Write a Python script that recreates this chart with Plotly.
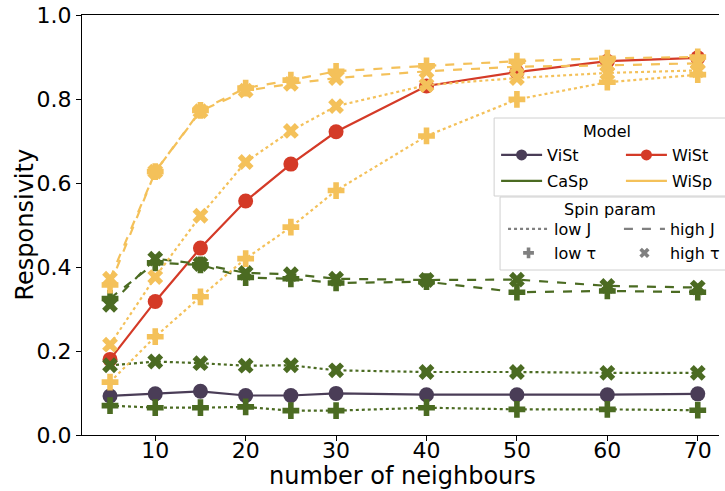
import plotly.graph_objects as go

# ---- data ----
neighbours = [5, 10, 15, 20, 25, 30, 40, 50, 60, 70]

vist = [0.093, 0.098, 0.104, 0.094, 0.094, 0.099, 0.096, 0.096, 0.096, 0.098]
wist = [0.180, 0.318, 0.445, 0.557, 0.645, 0.722, 0.831, 0.864, 0.890, 0.898]

casp_lowJ_lowT = [0.070, 0.065, 0.065, 0.067, 0.058, 0.058, 0.065, 0.061, 0.061, 0.059]
casp_lowJ_highT = [0.166, 0.175, 0.171, 0.165, 0.166, 0.154, 0.150, 0.150, 0.148, 0.148]
casp_highJ_lowT = [0.325, 0.410, 0.405, 0.375, 0.372, 0.362, 0.365, 0.340, 0.343, 0.340]
casp_highJ_highT = [0.310, 0.420, 0.407, 0.386, 0.383, 0.372, 0.369, 0.370, 0.355, 0.351]

wisp_lowJ_lowT = [0.126, 0.234, 0.329, 0.420, 0.495, 0.582, 0.712, 0.799, 0.840, 0.858]
wisp_lowJ_highT = [0.215, 0.376, 0.522, 0.650, 0.724, 0.783, 0.833, 0.850, 0.862, 0.868]
wisp_highJ_lowT = [0.357, 0.627, 0.773, 0.826, 0.845, 0.866, 0.879, 0.890, 0.897, 0.900]
wisp_highJ_highT = [0.372, 0.627, 0.771, 0.820, 0.836, 0.850, 0.866, 0.877, 0.880, 0.885]

y_ticks = [0.0, 0.2, 0.4, 0.6, 0.8, 1.0]
x_ticks = [10, 20, 30, 40, 50, 60, 70]

C_VIST = "#4a3d57"
C_WIST = "#d43a27"
C_CASP = "#4b6b22"
C_WISP = "#f4c15a"
C_GREY = "#808080"

FONT = "DejaVu Sans"

# figure geometry (pixels) used to place legend decorations and titles
W, H = 725, 491
ML, MR, MT, MB = 82, 0, 15, 56
PW, PH = W - ML - MR, H - MT - MB


def px(xp):
    return (xp - ML) / PW


def py(yp):
    return (H - MB - yp) / PH


fig = go.Figure()


def add(y, color, dash, symbol, size=14):
    fig.add_trace(go.Scatter(
        x=neighbours, y=y, mode="lines+markers",
        line=dict(color=color, width=2.2, dash=dash),
        marker=dict(color=color, symbol=symbol, size=size, line=dict(width=0)),
        showlegend=False, hoverinfo="skip"))


add(vist, C_VIST, "solid", "circle", 15)
add(wist, C_WIST, "solid", "circle", 15)
add(casp_lowJ_lowT, C_CASP, "dot", "cross")
add(casp_lowJ_highT, C_CASP, "dot", "x")
add(casp_highJ_lowT, C_CASP, "dash", "cross")
add(casp_highJ_highT, C_CASP, "dash", "x")
add(wisp_lowJ_lowT, C_WISP, "dot", "cross")
add(wisp_lowJ_highT, C_WISP, "dot", "x")
add(wisp_highJ_lowT, C_WISP, "dash", "cross")
add(wisp_highJ_highT, C_WISP, "dash", "x")

# ---- legend entries: one small legend per entry, arranged in 2 columns ----
entries = [
    # name, mode, color, dash, symbol, size, line-start px, row-centre px
    ("ViSt", "lines+markers", C_VIST, "solid", "circle", 11, 505, 155),
    ("WiSt", "lines+markers", C_WIST, "solid", "circle", 11, 631, 155),
    ("CaSp", "lines", C_CASP, "solid", "circle", 1, 505, 181),
    ("WiSp", "lines", C_WISP, "solid", "circle", 1, 631, 181),
    ("low J", "lines", C_GREY, "dot", "circle", 1, 512, 229),
    ("high J", "lines", C_GREY, "dash", "circle", 1, 629, 229),
    ("low \u03c4", "markers", C_GREY, "solid", "cross", 9, 512, 253),
    ("high \u03c4", "markers", C_GREY, "solid", "x", 9, 629, 253),
]

legend_layout = {}
for i, (name, mode, color, dash, symbol, size, lx, ly) in enumerate(entries):
    key = "legend" if i == 0 else f"legend{i + 1}"
    fig.add_trace(go.Scatter(
        x=[None], y=[None], name=name, mode=mode, legend=key,
        line=dict(color=color, width=2.2, dash=dash),
        marker=dict(color=color, symbol=symbol, size=size, line=dict(width=0))))
    legend_layout[key] = dict(
        x=px(lx - 5), y=py(ly), xanchor="left", yanchor="middle",
        bgcolor="rgba(0,0,0,0)", borderwidth=0,
        font=dict(family=FONT, size=16, color="black"),
        itemwidth=41)

# legend frames and titles
shapes = [
    dict(type="rect", xref="paper", yref="paper",
         x0=px(498), x1=px(740), y0=py(196), y1=py(118),
         line=dict(color="#d0d0d0", width=1), fillcolor="rgba(255,255,255,0.85)",
         layer="above"),
    dict(type="rect", xref="paper", yref="paper",
         x0=px(504), x1=px(740), y0=py(270), y1=py(197),
         line=dict(color="#d0d0d0", width=1), fillcolor="rgba(255,255,255,0.85)",
         layer="above"),
]
annotations = [
    dict(text="Model", xref="paper", yref="paper", x=px(612), y=py(131),
         showarrow=False, xanchor="center", yanchor="middle",
         font=dict(family=FONT, size=16, color="black")),
    dict(text="Spin param", xref="paper", yref="paper", x=px(615), y=py(209),
         showarrow=False, xanchor="center", yanchor="middle",
         font=dict(family=FONT, size=16, color="black")),
    # axis titles
    dict(text="number of neighbours", xref="paper", yref="paper",
         x=px(406), y=py(476), showarrow=False, xanchor="center", yanchor="middle",
         font=dict(family=FONT, size=24, color="black")),
    dict(text="Responsivity", xref="paper", yref="paper",
         x=px(24), y=0.5, textangle=-90, showarrow=False,
         xanchor="center", yanchor="middle",
         font=dict(family=FONT, size=24, color="black")),
]

fig.update_layout(
    width=W, height=H,
    margin=dict(l=ML, r=MR, t=MT, b=MB),
    paper_bgcolor="white", plot_bgcolor="white",
    font=dict(family=FONT, size=22, color="black"),
    shapes=shapes, annotations=annotations,
    xaxis=dict(range=[1.9, 72.35], tickmode="array", tickvals=x_ticks,
               showline=True, linecolor="black", linewidth=1.2, mirror=True,
               ticks="outside", ticklen=5, tickcolor="black", showgrid=False,
               zeroline=False, tickfont=dict(family=FONT, size=22),
               ticklabelstandoff=-10),
    yaxis=dict(range=[0, 1.0], tickmode="array", tickvals=y_ticks,
               tickformat=".1f",
               showline=True, linecolor="black", linewidth=1.2,
               ticks="outside", ticklen=5, tickcolor="black", showgrid=False,
               zeroline=False, tickfont=dict(family=FONT, size=22)),
    **legend_layout,
)

fig.write_html("out.html")
